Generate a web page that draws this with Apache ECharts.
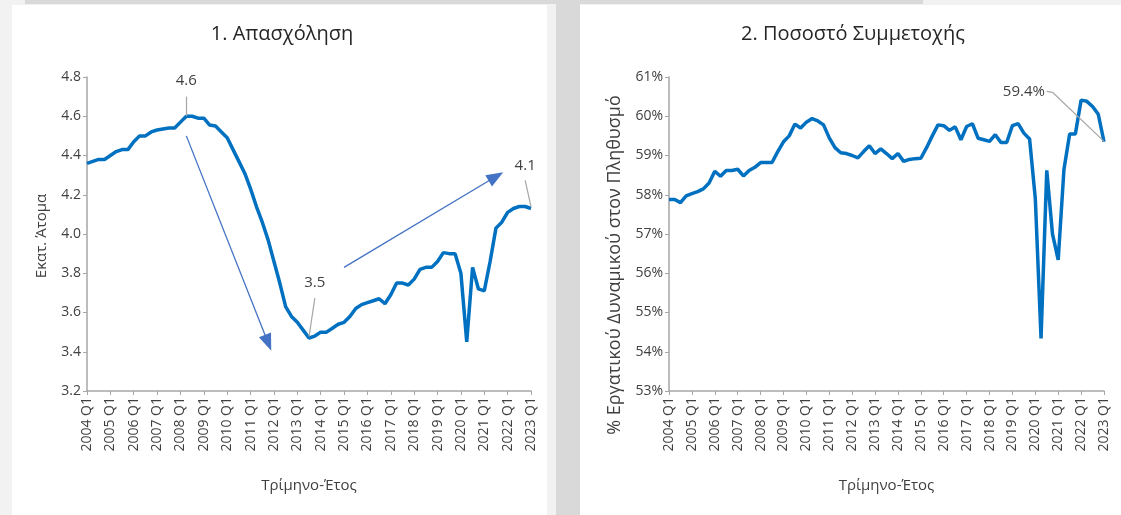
<!DOCTYPE html>
<html>
<head>
<meta charset="utf-8">
<script src="https://cdn.jsdelivr.net/npm/echarts@6/dist/echarts.min.js"></script>
<style>
html,body{margin:0;padding:0;background:#f2f2f2;}
#c{width:1121px;height:515px;}
</style>
</head>
<body>
<div id="c"></div>
<script>
// ---- data ----
var years = [2004,2005,2006,2007,2008,2009,2010,2011,2012,2013,2014,2015,2016,2017,2018,2019,2020,2021,2022,2023];
var quarters = ['Q1','Q2','Q3','Q4'];
var categories = [];
years.forEach(function(y){ quarters.forEach(function(q){ if(!(y===2023 && q!=='Q1')) categories.push(y+' '+q); }); });

// Employment, million persons
var employment = [
  4.36,4.37,4.38,4.38,
  4.40,4.42,4.43,4.43,
  4.47,4.50,4.50,4.52,
  4.53,4.535,4.54,4.54,
  4.57,4.60,4.60,4.59,
  4.59,4.555,4.55,4.52,
  4.49,4.43,4.37,4.31,
  4.23,4.14,4.06,3.97,
  3.86,3.75,3.63,3.58,
  3.55,3.51,3.47,3.48,
  3.50,3.50,3.52,3.54,
  3.55,3.58,3.62,3.64,
  3.65,3.66,3.67,3.645,
  3.69,3.75,3.75,3.74,
  3.77,3.82,3.83,3.83,
  3.86,3.905,3.90,3.90,
  3.80,3.45,3.83,3.72,
  3.71,3.86,4.03,4.06,
  4.11,4.13,4.14,4.14,
  4.13
];

// Participation rate, %
var participation = [
  57.88,57.88,57.80,57.97,
  58.03,58.08,58.15,58.30,
  58.60,58.47,58.62,58.62,
  58.65,58.48,58.62,58.70,
  58.82,58.82,58.82,59.10,
  59.35,59.50,59.80,59.70,
  59.85,59.94,59.88,59.78,
  59.45,59.20,59.07,59.05,
  59.00,58.94,59.10,59.25,
  59.05,59.17,59.05,58.92,
  59.05,58.85,58.90,58.92,
  58.93,59.20,59.50,59.78,
  59.76,59.64,59.73,59.40,
  59.74,59.81,59.44,59.40,
  59.36,59.53,59.33,59.33,
  59.76,59.81,59.57,59.42,
  57.90,54.34,58.62,57.00,
  56.34,58.64,59.55,59.55,
  60.41,60.38,60.25,60.05,
  59.35
];

var empTicks = [3.2,3.4,3.6,3.8,4.0,4.2,4.4,4.6,4.8];
var partTicks = [53,54,55,56,57,58,59,60,61];

var titles = ['1. Απασχόληση','2. Ποσοστό Συμμετοχής'];
var xName = 'Τρίμηνο-Έτος';
var yNames = ['Εκατ. Άτομα','% Εργατικού Δυναμικού στον Πληθυσμό'];

// ---- chart ----
var FONT = "'Open Sans','DejaVu Sans',sans-serif";
var TXT = '#404040';
var AX = '#a6a6a6';
var LINE = '#0070c0';
var ARROW = '#4472c4';
var LEAD = '#a6a6a6';

function xAxisCfg(gi){
  return {
    type:'category', gridIndex:gi, data:categories, boundaryGap:false,
    axisLine:{lineStyle:{color:AX,width:1.5}},
    axisTick:{interval:3, length:4, lineStyle:{color:AX}},
    axisLabel:{interval:3, rotate:90, color:TXT, fontSize:14, fontFamily:FONT, margin:6},
    name:xName, nameLocation:'middle', nameGap:87,
    nameTextStyle:{color:TXT, fontSize:15, fontFamily:FONT}
  };
}
function yAxisCfg(gi, ticks, fmt){
  return {
    type:'value', gridIndex:gi, min:ticks[0], max:ticks[ticks.length-1],
    interval:ticks[1]-ticks[0],
    splitLine:{show:false},
    axisLine:{show:true, lineStyle:{color:AX,width:1.5}},
    axisTick:{show:true, length:4, lineStyle:{color:AX}},
    axisLabel:{color:TXT, fontSize:14, fontFamily:FONT, margin:6, formatter:fmt}
  };
}
function seg(a,b){ return [{coord:a},{coord:b}]; }

var chart = echarts.init(document.getElementById('c'), null, {renderer:'canvas'});
var option = {
  backgroundColor:'#f2f2f2',
  animation:false,
  graphic:[
    {type:'rect', z:-10, shape:{x:25,y:0,width:898,height:4}, style:{fill:'#d9d9d9'}, silent:true},
    {type:'rect', z:-10, shape:{x:12,y:5,width:535,height:510}, style:{fill:'#ffffff'}, silent:true},
    {type:'rect', z:-10, shape:{x:556,y:0,width:24,height:515}, style:{fill:'#d9d9d9'}, silent:true},
    {type:'rect', z:-10, shape:{x:580,y:5,width:541,height:510}, style:{fill:'#ffffff'}, silent:true},
    {type:'text', x:282, y:34, style:{text:titles[0], fill:'#262626', font:'20px '+FONT, textAlign:'center', textVerticalAlign:'middle'}},
    {type:'text', x:853, y:34, style:{text:titles[1], fill:'#262626', font:'20px '+FONT, textAlign:'center', textVerticalAlign:'middle'}},
    {type:'text', x:42, y:236, rotation:Math.PI/2, style:{text:yNames[0], fill:TXT, font:'15px '+FONT, textAlign:'center', textVerticalAlign:'middle'}},
    {type:'text', x:615, y:265, rotation:Math.PI/2, style:{text:yNames[1], fill:TXT, font:'18px '+FONT, textAlign:'center', textVerticalAlign:'middle'}}
  ],
  grid:[
    {left:87, right:590, top:77, bottom:124},
    {left:669, right:17, top:77, bottom:124}
  ],
  xAxis:[xAxisCfg(0), xAxisCfg(1)],
  yAxis:[
    yAxisCfg(0, empTicks, function(v){return v.toFixed(1);}),
    yAxisCfg(1, partTicks, function(v){return v+'%';})
  ],
  series:[
    {
      type:'line', xAxisIndex:0, yAxisIndex:0, data:employment,
      showSymbol:false, symbol:'none',
      lineStyle:{color:LINE, width:3.5}, z:3,
      markLine:{
        silent:true, symbol:['none','none'], label:{show:false},
        data:[
          seg([16.9,4.70],[17.4,4.60]),
          seg([38.75,3.673],[38.3,3.477]),
          seg([74.97,4.273],[75.8,4.14])
        ],
        lineStyle:{color:LEAD, width:1.2, type:'solid'}
      },
      markPoint:{
        silent:true, symbol:'circle', symbolSize:0,
        label:{show:true, color:TXT, fontSize:15, fontFamily:FONT},
        data:[
          {coord:[16.9,4.78], label:{formatter:'4.6'}},
          {coord:[38.6,3.753], label:{formatter:'3.5'}},
          {coord:[74.85,4.348], label:{formatter:'4.1'}}
        ]
      }
    },
    {
      type:'line', xAxisIndex:0, yAxisIndex:0, data:[], silent:true,
      markLine:{
        silent:true, symbol:['none','triangle'], symbolSize:[13,17], label:{show:false},
        lineStyle:{color:ARROW, width:1.3, type:'solid'},
        data:[
          seg([17.07,4.50],[31.3,3.446]),
          seg([44.0,3.83],[70.0,4.293])
        ]
      }
    },
    {
      type:'line', xAxisIndex:1, yAxisIndex:1, data:participation,
      showSymbol:false, symbol:'none',
      lineStyle:{color:LINE, width:3.5}, z:3,
      markLine:{
        silent:true, symbol:['none','none'], label:{show:false},
        lineStyle:{color:LEAD, width:1.2, type:'solid'},
        data:[
          seg([65.98,60.635],[67.4,60.61]),
          seg([67.4,60.61],[76.0,59.36])
        ]
      },
      markPoint:{
        silent:true, symbol:'circle', symbolSize:0,
        label:{show:true, color:TXT, fontSize:15, fontFamily:FONT},
        data:[
          {coord:[61.6,60.63], label:{formatter:'59.4%'}}
        ]
      }
    }
  ]
};
chart.setOption(option);
</script>
</body>
</html>
